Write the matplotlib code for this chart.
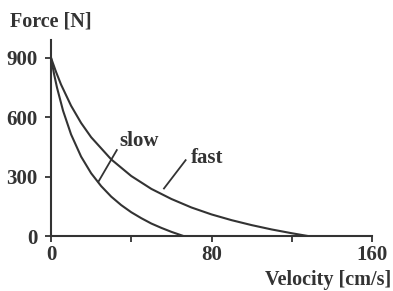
import matplotlib
matplotlib.use('Agg')
import matplotlib.pyplot as plt

# Values (force-velocity curves)
slow_velocity = [0, 1.5, 3, 6, 10, 15, 20, 25, 30, 35, 40, 45, 50, 55, 60, 66]
slow_force = [900, 819, 749, 633, 513, 401, 317, 252, 199, 156, 120, 90, 63, 41, 21, 0]

fast_velocity = [0, 2.5, 5, 10, 15, 20, 30, 40, 50, 60, 70, 80, 90, 100, 110, 120, 128]
fast_force = [900, 829, 765, 658, 571, 499, 387, 303, 238, 187, 144, 109, 80, 55, 33, 14, 0]

x_ticks = [0, 40, 80, 120, 160]
x_tick_labels = ['0', '', '80', '', '160']
y_ticks = [0, 300, 600, 900]

ink = '#333333'
plt.rcParams['font.family'] = ['Liberation Serif', 'DejaVu Serif']
plt.rcParams['font.weight'] = 'bold'

fig = plt.figure(figsize=(3.93, 2.91), dpi=100)
ax = fig.add_axes([0.1298, 0.189, 0.8168, 0.6735])

ax.plot(slow_velocity, slow_force, color=ink, lw=1.5)
ax.plot(fast_velocity, fast_force, color=ink, lw=1.5)

# curve labels with leader lines
ax.plot([23.6, 32.8], [274, 434], color=ink, lw=1.3)
ax.text(34.0, 478, 'slow', fontsize=15, fontweight='bold', color=ink, va='center', ha='left')
ax.plot([56.3, 67.1], [240, 383], color=ink, lw=1.3)
ax.text(69.8, 392, 'fast', fontsize=15, fontweight='bold', color=ink, va='center', ha='left')

ax.set_xlim(0, 160)
ax.set_ylim(0, 990)
ax.set_xticks(x_ticks)
ax.set_xticklabels(x_tick_labels)
ax.set_yticks(y_ticks)

for side in ['top', 'right']:
    ax.spines[side].set_visible(False)
for side in ['left', 'bottom']:
    ax.spines[side].set_color(ink)
    ax.spines[side].set_linewidth(1.5)

ax.tick_params(axis='both', direction='out', length=4.5, width=1.3, color=ink,
               labelsize=15, labelcolor=ink)
ax.tick_params(axis='y', pad=5)
ax.tick_params(axis='x', pad=2)
for lbl in ax.get_xticklabels() + ax.get_yticklabels():
    lbl.set_fontweight('bold')

fig.text(0.025, 0.927, 'Force [N]', fontsize=14.5, fontweight='bold', color=ink, va='center', ha='left')
fig.text(0.995, 0.038, 'Velocity [cm/s]', fontsize=14.5, fontweight='bold', color=ink, va='center', ha='right')

fig.savefig('out.png', dpi=100)
